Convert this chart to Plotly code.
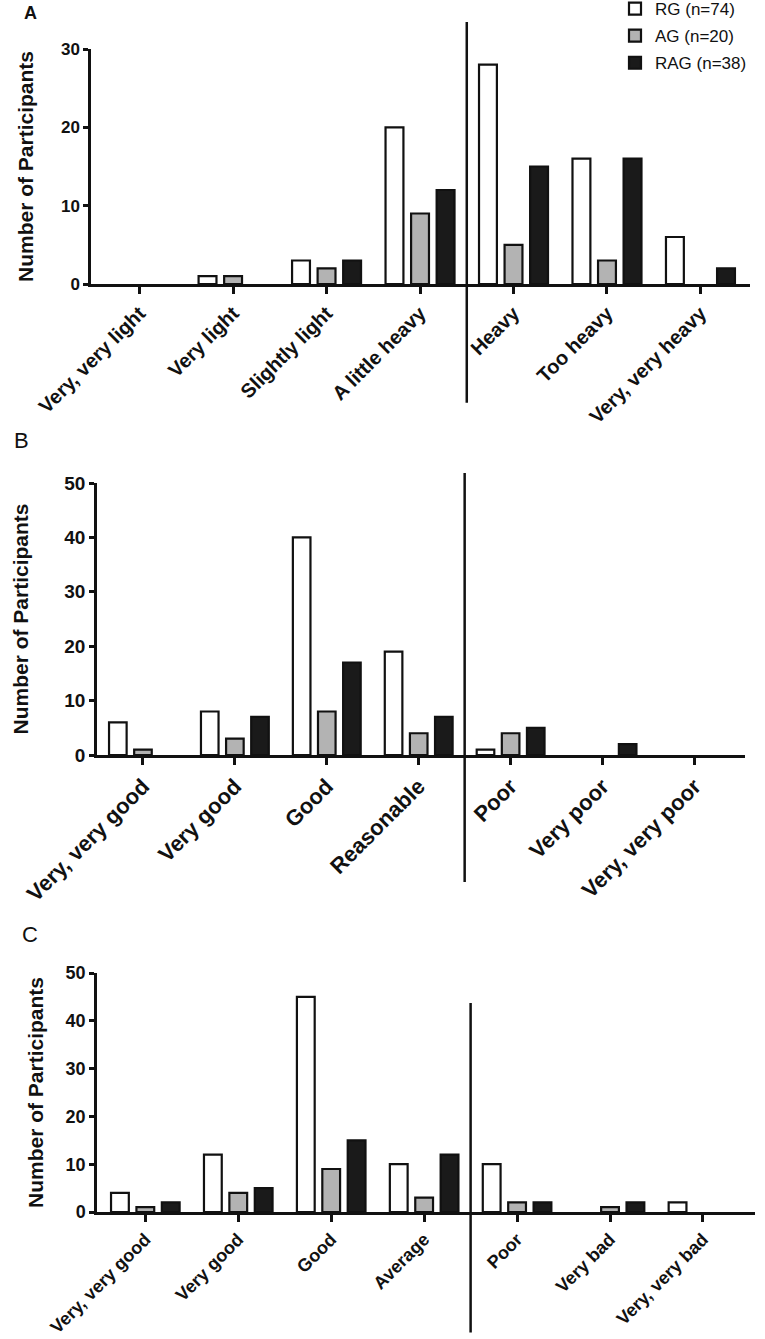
import plotly.graph_objects as go

W, H = 765, 1339

# ---------------- data ----------------
series_names = ["RG (n=74)", "AG (n=20)", "RAG (n=38)"]
series_colors = ["#ffffff", "#b3b3b3", "#1a1a1a"]

cats_a = ["Very, very light", "Very light", "Slightly light", "A little heavy",
          "Heavy", "Too heavy", "Very, very heavy"]
rg_a = [0, 1, 3, 20, 28, 16, 6]
ag_a = [0, 1, 2, 9, 5, 3, 0]
rag_a = [0, 0, 3, 12, 15, 16, 2]

cats_b = ["Very, very good", "Very good", "Good", "Reasonable",
          "Poor", "Very poor", "Very, very poor"]
rg_b = [6, 8, 40, 19, 1, 0, 0]
ag_b = [1, 3, 8, 4, 4, 0, 0]
rag_b = [0, 7, 17, 7, 5, 2, 0]

cats_c = ["Very, very good", "Very good", "Good", "Average",
          "Poor", "Very bad", "Very, very bad"]
rg_c = [4, 12, 45, 10, 10, 0, 2]
ag_c = [1, 4, 9, 3, 2, 1, 0]
rag_c = [2, 5, 15, 12, 2, 2, 0]

yticks_a = [0, 10, 20, 30]
yticks_bc = [0, 10, 20, 30, 40, 50]

FONT = "Liberation Sans, Arial, sans-serif"
INK = "#111111"


def fx(px):
    return px / W


def fy(py):
    return 1 - py / H


panels = [
    dict(cats=cats_a, vals=[rg_a, ag_a, rag_a], ymax=30, yticks=yticks_a,
         px_x=(91, 750), px_y=(284, 49), xr=[-0.52, 6.53],
         div=(1.115, -0.505), xfont=20, yfont=17, label="A", label_bold=True,
         label_pos=(30, 13), standoff=22),
    dict(cats=cats_b, vals=[rg_b, ag_b, rag_b], ymax=50, yticks=yticks_bc,
         px_x=(97, 745), px_y=(755, 483), xr=[-0.50, 6.55],
         div=(1.037, -0.467), xfont=22, yfont=19, label="B", label_bold=False,
         label_pos=(21, 440), standoff=30),
    dict(cats=cats_c, vals=[rg_c, ag_c, rag_c], ymax=50, yticks=yticks_bc,
         px_x=(97, 755), px_y=(1212, 973), xr=[-0.52, 6.56],
         div=(0.874, -0.504), xfont=18, yfont=18, label="C", label_bold=False,
         label_pos=(30, 934), standoff=17),
]

fig = go.Figure()
shapes = []
annotations = []
layout_axes = {}

for i, p in enumerate(panels):
    sfx = "" if i == 0 else str(i + 1)
    xa, ya = "x" + sfx, "y" + sfx
    for k in range(3):
        vals = p["vals"][k]
        fig.add_trace(go.Bar(
            x=p["cats"], y=[v if v > 0 else None for v in vals],
            name=series_names[k],
            xaxis=xa, yaxis=ya, legendgroup=series_names[k],
            showlegend=(i == 0),
            marker=dict(color=series_colors[k], line=dict(color=INK, width=2.2)),
        ))
    x0, x1 = p["px_x"]
    y0, y1 = p["px_y"]
    layout_axes["xaxis" + sfx] = dict(
        domain=[fx(x0), fx(x1)], anchor=ya, type="category", range=p["xr"],
        automargin=False,
        showline=True, linecolor=INK, linewidth=2.5,
        ticks="outside", ticklen=7, tickwidth=2.5, tickcolor=INK,
        tickangle=-45, showgrid=False, zeroline=False,
        tickfont=dict(family=FONT, size=p["xfont"], color=INK, weight="bold"),
    )
    layout_axes["yaxis" + sfx] = dict(
        domain=[fy(y0), fy(y1)], anchor=xa, range=[0, p["ymax"]],
        automargin=False,
        tickvals=p["yticks"], showline=True, linecolor=INK, linewidth=2.5,
        ticks="outside", ticklen=5, tickwidth=2.5, tickcolor=INK,
        showgrid=False, zeroline=False,
        tickfont=dict(family=FONT, size=p["yfont"], color=INK, weight="bold"),
        title=dict(text="Number of Participants", standoff=p["standoff"],
                   font=dict(family=FONT, size=21, color=INK, weight="bold")),
    )
    shapes.append(dict(type="line", xref=xa, yref=ya + " domain",
                       x0=3.5, x1=3.5, y0=p["div"][0], y1=p["div"][1],
                       line=dict(color=INK, width=2.5)))
    lx, ly = p["label_pos"]
    annotations.append(dict(
        text=p["label"], xref="paper", yref="paper", x=fx(lx), y=fy(ly),
        xanchor="center", yanchor="middle", showarrow=False,
        font=dict(family=FONT, size=18 if p["label_bold"] else 22, color=INK,
                  weight="bold" if p["label_bold"] else "normal"),
    ))

fig.update_layout(
    width=W, height=H, margin=dict(l=0, r=0, t=0, b=0, autoexpand=False),
    paper_bgcolor="white", plot_bgcolor="white",
    barmode="group", bargap=0.18, bargroupgap=0.3,
    shapes=shapes, annotations=annotations,
    legend=dict(x=fx(615), y=fy(-9), xanchor="left", yanchor="top",
                font=dict(family=FONT, size=17, color=INK),
                bgcolor="rgba(0,0,0,0)", tracegroupgap=2),
    **layout_axes,
)

fig.write_html("out.html", config={"displayModeBar": False},
               post_script="document.body.style.margin='0px';")
